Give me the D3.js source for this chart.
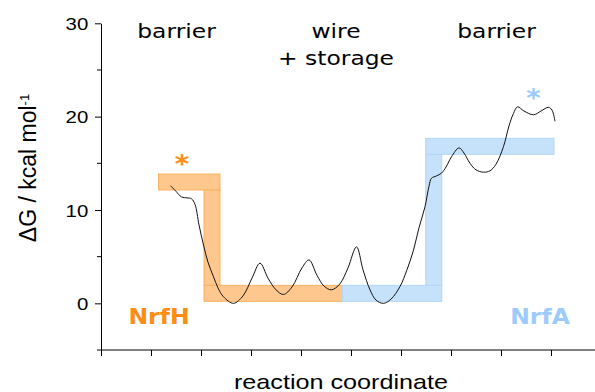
<!DOCTYPE html>
<html>
<head>
<meta charset="utf-8">
<script src="https://cdn.jsdelivr.net/npm/d3@7"></script>
<style>
  body { margin: 0; background: #fff; }
</style>
</head>
<body>
<div id="vizcont"></div>
<script>
// free energy profile along the reaction coordinate (kcal/mol)
var profileX = [1.39, 1.50, 1.61, 1.72, 1.81, 1.88, 1.96, 2.05, 2.14, 2.25, 2.34, 2.45, 2.65,
                2.84, 3.02, 3.18, 3.34, 3.50, 3.65, 3.82, 4.02, 4.16, 4.32, 4.46, 4.61,
                4.78, 4.94, 5.11, 5.24, 5.38, 5.50, 5.65, 5.80, 5.98, 6.12, 6.25, 6.36,
                6.48, 6.56, 6.61, 6.71, 6.81, 6.90, 7.01, 7.16, 7.26, 7.38, 7.50, 7.65,
                7.78, 7.90, 8.05, 8.16, 8.25, 8.33, 8.46, 8.65, 8.80, 8.95, 9.02, 9.08];
var profileG = [12.6, 12.0, 11.4, 11.3, 11.2, 10.6, 8.4, 6.25, 4.4, 2.85, 1.65, 0.7, 0.0,
                0.8, 2.7, 4.3, 2.7, 1.45, 0.95, 1.75, 3.8, 4.65, 3.0, 1.85, 1.45,
                2.1, 3.8, 6.05, 3.6, 1.45, 0.35, 0.0, 0.45, 1.8, 3.6, 5.7, 8.1,
                10.35, 12.55, 13.4, 13.65, 13.95, 14.6, 15.7, 16.65, 16.1, 15.0, 14.3, 14.05,
                14.2, 14.9, 16.8, 19.0, 20.35, 21.05, 20.6, 20.2, 20.6, 21.0, 20.7, 19.5];

// protein stages: start, step position, end and the two energy levels
var stageNames  = ["NrfH", "NrfA"];
var stageStart  = [1.15, 4.83];
var stageStep   = [2.22, 6.655];
var stageEnd    = [4.83, 9.06];
var stageLevelA = [13.0, 1.07];
var stageLevelB = [1.07, 16.82];

// region labels along the top
var regionLabels = [["barrier"], ["wire", "+ storage"], ["barrier"]];
var regionX      = [1.51, 4.7, 7.91];

var yMajor = [0, 10, 20, 30];
var yMinor = [5, 15, 25];
var xTicks = [0, 1, 2, 3, 4, 5, 6, 7, 8, 9];

var width = 595, height = 392;
var stretch = 1.17;   // text in the figure is wider than tall
var band = 16;        // band thickness in px

var colors = {
    NrfH: {fill: "#fec78d", stroke: "#fbb264", text: "#ff8c14"},
    NrfA: {fill: "#c6e1fa", stroke: "#b3d6f7", text: "#9dcbfd"}
};

var svg = d3.select("#vizcont")
    .append("svg")
    .attr("width", width)
    .attr("height", height);

var x = d3.scaleLinear().domain([0, 10]).range([101, 601]);
var y = d3.scaleLinear().domain([-5, 30]).range([350, 23.3]);

// bands for the two proteins
stageNames.forEach(function(name, i) {
    var c = colors[name];
    var g = svg.append("g")
        .attr("fill", c.fill)
        .attr("stroke", c.stroke)
        .attr("stroke-width", 1);
    var yA = y(stageLevelA[i]), yB = y(stageLevelB[i]);
    var xs = x(stageStep[i]);
    var top = Math.min(yA, yB), bot = Math.max(yA, yB);
    // vertical connector
    g.append("rect")
        .attr("x", xs - band / 2)
        .attr("y", top + band / 2)
        .attr("width", band)
        .attr("height", bot - top - band);
    // first level
    g.append("rect")
        .attr("x", x(stageStart[i]))
        .attr("y", yA - band / 2)
        .attr("width", xs + band / 2 - x(stageStart[i]))
        .attr("height", band);
    // second level
    g.append("rect")
        .attr("x", xs - band / 2)
        .attr("y", yB - band / 2)
        .attr("width", x(stageEnd[i]) - xs + band / 2)
        .attr("height", band);
});

// energy profile
var line = d3.line()
    .x(function(d) { return x(d[0]); })
    .y(function(d) { return y(d[1]); })
    .curve(d3.curveCatmullRom.alpha(0.5));

svg.append("path")
    .datum(profileX.map(function(v, i) { return [v, profileG[i]]; }))
    .attr("fill", "none")
    .attr("stroke", "#111")
    .attr("stroke-width", 1)
    .attr("d", line);

// y axis
var yAxis = svg.append("g")
    .attr("transform", "translate(" + x(0) + ",0)")
    .call(d3.axisLeft(y).tickValues(yMajor).tickSize(6).tickSizeOuter(0).tickFormat(d3.format("d")));
yAxis.selectAll("text")
    .attr("x", -12.7 / 1.2)
    .attr("dy", "0.36em")
    .attr("transform", "scale(1.2,1)")
    .style("font", "17px 'Liberation Sans', Arial, sans-serif")
    .attr("fill", "#000");
yAxis.selectAll("g.minor")
    .data(yMinor)
    .enter()
    .append("line")
    .attr("x1", -4)
    .attr("x2", 0)
    .attr("y1", function(d) { return y(d); })
    .attr("y2", function(d) { return y(d); })
    .attr("stroke", "#000");

// x axis
var xAxis = svg.append("g")
    .attr("transform", "translate(0," + y(-5) + ")")
    .call(d3.axisBottom(x).tickValues(xTicks).tickSize(6).tickSizeOuter(0).tickFormat(""));
xAxis.select(".domain").attr("d", "M" + (x(0) - 4) + ",0H" + 600);
svg.selectAll(".domain, .tick line").attr("stroke", "#000").attr("stroke-width", 1);

// axis titles
svg.append("text")
    .attr("transform", "translate(341,389) scale(1.26,1)")
    .attr("text-anchor", "middle")
    .style("font", "20px 'Liberation Sans', Arial, sans-serif")
    .text("reaction coordinate");

var yl = svg.append("text")
    .attr("transform", "translate(36,168) rotate(-90)")
    .attr("text-anchor", "middle")
    .style("font", "23px 'Liberation Sans', Arial, sans-serif");
yl.append("tspan").text("\u0394G / kcal mol");
yl.append("tspan")
    .attr("dy", "-0.55em")
    .style("font-size", "13px")
    .text("-1");

// region labels
regionLabels.forEach(function(lines, i) {
    lines.forEach(function(t, j) {
        svg.append("text")
            .attr("transform", "translate(" + x(regionX[i]) + "," + (37.7 + j * 27.3) + ") scale(" + stretch + ",1)")
            .attr("text-anchor", "middle")
            .style("font", "20px 'DejaVu Sans', sans-serif")
            .attr("fill", "#000")
            .text(t);
    });
});

// protein names and the asterisks over the highest barriers
var nameX = [1.16, 8.78];
var starX = [1.62, 8.65];
var starG = [15.6, 22.6];
stageNames.forEach(function(name, i) {
    svg.append("text")
        .attr("transform", "translate(" + x(nameX[i]) + ",324) scale(1.12,1)")
        .attr("text-anchor", "middle")
        .style("font", "bold 21px 'DejaVu Sans', sans-serif")
        .attr("fill", colors[name].text)
        .text(name);
    svg.append("text")
        .attr("transform", "translate(" + x(starX[i]) + "," + (y(starG[i]) + 14) + ") scale(1.1,1)")
        .attr("text-anchor", "middle")
        .style("font", "bold 25px 'DejaVu Sans', sans-serif")
        .attr("fill", colors[name].text)
        .text("*");
});
</script>
</body>
</html>
